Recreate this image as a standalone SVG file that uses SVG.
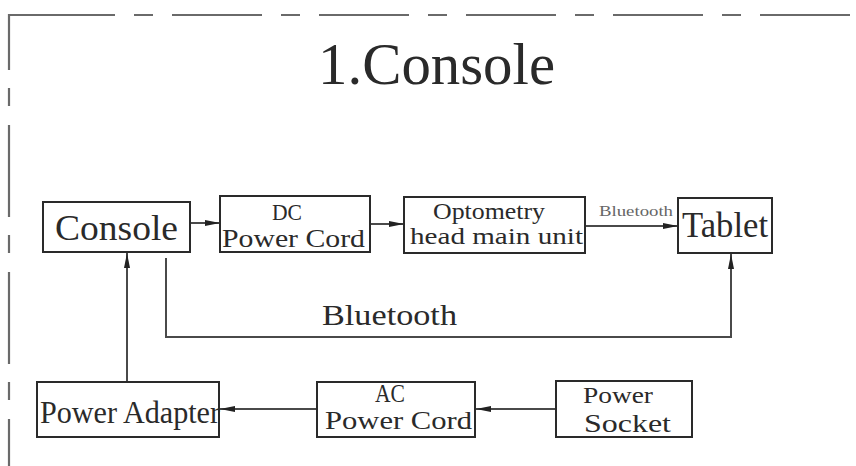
<svg xmlns="http://www.w3.org/2000/svg" width="856" height="466" viewBox="0 0 856 466">
<style>
.frame{fill:none;stroke:#6a6a6a;stroke-width:2.2}
.box{fill:#fff;stroke:#2a2a2a;stroke-width:2}
.con{fill:none;stroke:#4a4a4a;stroke-width:2}
text{font-family:"Liberation Serif","Times New Roman",serif;fill:#2a2a2a}
.sm{fill:#666}
</style>
<defs>
<marker id="ah" markerUnits="userSpaceOnUse" markerWidth="16" markerHeight="8" refX="15" refY="4" orient="auto">
<path d="M0,1 L15,4 L0,7 Z" fill="#222"/>
</marker>
</defs>
<g id="frame">
<line class="frame" x1="9" y1="15" x2="115" y2="15"/>
<line class="frame" x1="134" y1="15" x2="856" y2="15" stroke-dasharray="19 19 90 19"/>
<line class="frame" x1="9" y1="14" x2="9" y2="466" stroke-dasharray="92 18 18 19" stroke-dashoffset="36"/>
</g>
<text id="title" x="318" y="84" font-size="60" textLength="237" lengthAdjust="spacingAndGlyphs">1.Console</text>
<g id="connectors">
<line class="con" x1="190" y1="223" x2="220" y2="223" marker-end="url(#ah)"/>
<line class="con" x1="370" y1="224" x2="404" y2="224" marker-end="url(#ah)"/>
<line class="con" x1="585" y1="226" x2="678" y2="226" marker-end="url(#ah)"/>
<polyline class="con" points="166,258 166,337 731,337 731,254" marker-end="url(#ah)"/>
<line class="con" x1="127" y1="382" x2="127" y2="253" marker-end="url(#ah)"/>
<line class="con" x1="317" y1="409" x2="220" y2="409" marker-end="url(#ah)"/>
<line class="con" x1="556" y1="409" x2="476" y2="409" marker-end="url(#ah)"/>
<text class="sm" x="599" y="216" font-size="14" textLength="74" lengthAdjust="spacingAndGlyphs">Bluetooth</text>
<text x="322" y="325" font-size="29" textLength="135" lengthAdjust="spacingAndGlyphs">Bluetooth</text>
</g>
<g id="console">
<rect class="box" x="43" y="202" width="147" height="50"/>
<text x="55" y="240" font-size="36" textLength="123" lengthAdjust="spacingAndGlyphs">Console</text>
</g>
<g id="dc-power-cord">
<rect class="box" x="220" y="196" width="150" height="56"/>
<text x="272" y="220" font-size="23" textLength="30" lengthAdjust="spacingAndGlyphs">DC</text>
<text x="222" y="247" font-size="25" textLength="143" lengthAdjust="spacingAndGlyphs">Power Cord</text>
</g>
<g id="optometry">
<rect class="box" x="404" y="197" width="181" height="56"/>
<text x="433" y="219" font-size="24" textLength="112" lengthAdjust="spacingAndGlyphs">Optometry</text>
<text x="410" y="244" font-size="24" textLength="173" lengthAdjust="spacingAndGlyphs">head main unit</text>
</g>
<g id="tablet">
<rect class="box" x="678" y="198" width="94" height="55"/>
<text x="682" y="237" font-size="36" textLength="86" lengthAdjust="spacingAndGlyphs">Tablet</text>
</g>
<g id="power-adapter">
<rect class="box" x="37" y="382" width="182" height="55"/>
<text x="40" y="423" font-size="31" textLength="180" lengthAdjust="spacingAndGlyphs">Power Adapter</text>
</g>
<g id="ac-power-cord">
<rect class="box" x="317" y="382" width="158" height="55"/>
<text x="375" y="402" font-size="25" textLength="30" lengthAdjust="spacingAndGlyphs">AC</text>
<text x="325" y="429" font-size="26" textLength="147" lengthAdjust="spacingAndGlyphs">Power Cord</text>
</g>
<g id="power-socket">
<rect class="box" x="556" y="381" width="136" height="56"/>
<text x="583" y="403" font-size="24" textLength="70" lengthAdjust="spacingAndGlyphs">Power</text>
<text x="584" y="432" font-size="25" textLength="87" lengthAdjust="spacingAndGlyphs">Socket</text>
</g>
</svg>
